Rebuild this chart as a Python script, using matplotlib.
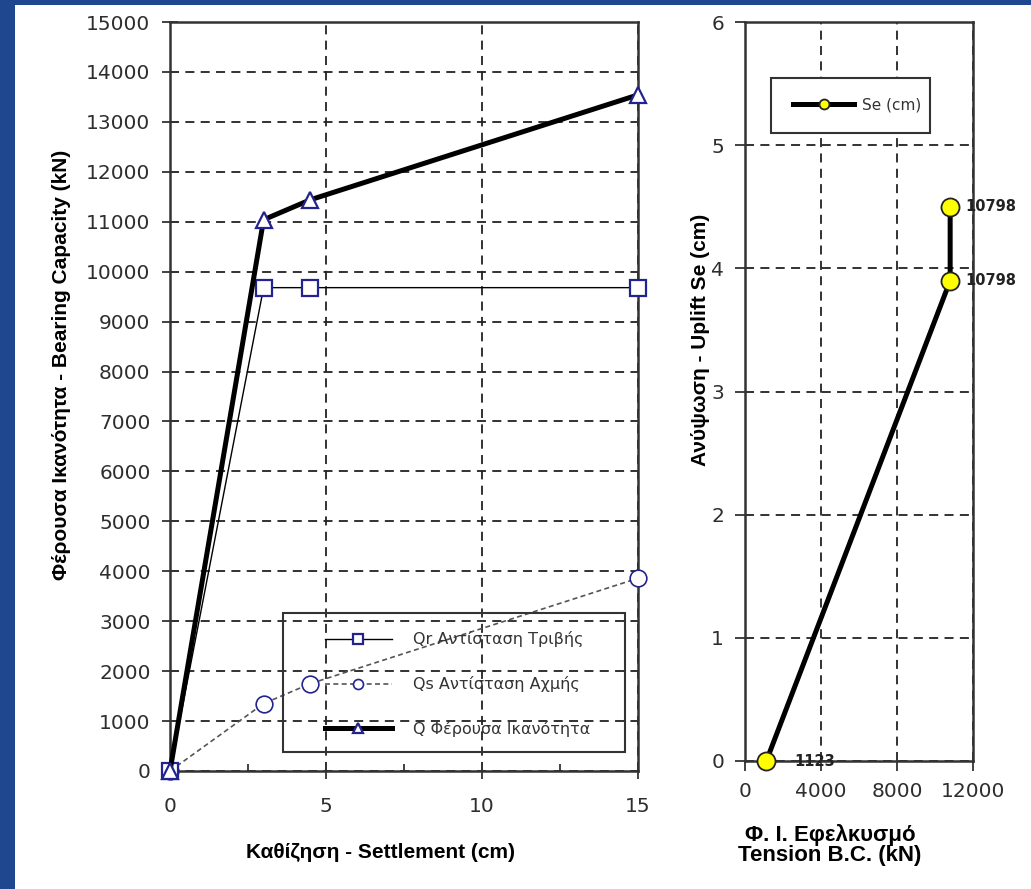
import matplotlib
matplotlib.use('Agg')
import matplotlib.pyplot as plt
from matplotlib.patches import Rectangle

# settlement curve data (left chart)
settlement = [0, 3, 4.5, 15]
qr = [0, 9680, 9680, 9680]
qs = [0, 1350, 1750, 3860]
q = [0, 11040, 11440, 13540]

# uplift curve data (right chart)
tension = [1123, 10798, 10798]
uplift = [0, 3.9, 4.5]
tension_labels = ['1123', '10798', '10798']

plt.rcParams['font.family'] = ['DejaVu Sans']
label_font = ['Liberation Sans Narrow', 'Liberation Sans', 'DejaVu Sans']
tick_col = '#2e2e2e'
navy = '#23238f'

fig = plt.figure(figsize=(10.31, 8.89), dpi=100)
fig.patch.set_facecolor('#1f4790')
fig.patches.append(Rectangle((15 / 1031, 0), 1, 1 - 5 / 889, transform=fig.transFigure,
                             facecolor='white', edgecolor='none', zorder=-10))

# ---------- left chart ----------
ax = fig.add_axes([170 / 1031, 1 - 771 / 889, 468 / 1031, 749 / 889])
ax.set_facecolor('white')
ax.plot(settlement, qr, color='black', lw=1.0, marker='s', ms=12, mfc='white',
        mec=navy, mew=1.6, clip_on=False, zorder=4, label='Qr Αντίσταση Τριβής')
ax.plot(settlement, qs, color='#555555', lw=1.2, ls=(0, (3, 2)), marker='o', ms=12,
        mfc='white', mec=navy, mew=1.2, clip_on=False, zorder=3, label='Qs Αντίσταση Αχμής')
ax.plot(settlement, q, color='black', lw=3.6, marker='^', ms=12, mfc='white',
        mec=navy, mew=1.6, clip_on=False, zorder=5, label='Q Φέρουσα Ικανότητα')

ax.set_xlim(0, 15)
ax.set_ylim(0, 15000)
ax.set_xticks([0, 5, 10, 15])
ax.set_xticks([2.5, 7.5, 12.5], minor=True)
ax.set_yticks(range(0, 15001, 1000))
ax.grid(True, which='major', color='#222222', ls=(0, (5, 3.5)), lw=1.3)
ax.tick_params(axis='both', which='major', direction='inout', length=12, width=1.3,
               labelsize=14.5, labelcolor=tick_col, color='#333333', pad=8)
ax.tick_params(axis='x', which='major', pad=13)
ax.tick_params(axis='x', which='minor', direction='in', length=5, width=1.3, color='#333333')
for s in ax.spines.values():
    s.set_color('#333333')
    s.set_linewidth(1.8)

# legend box drawn separately so the entries can sit inset like the original
ax.add_patch(Rectangle((0.2415, 0.025), 0.73, 0.186, transform=ax.transAxes, facecolor='none',
                       edgecolor='#333333', lw=1.5, clip_on=False, zorder=6))
ax.legend(loc='center left', bbox_to_anchor=(0.331, 0.116), fontsize=11.5, handlelength=4.2,
          handletextpad=1.3, labelspacing=1.8, borderpad=0, borderaxespad=0,
          markerscale=0.6, frameon=False, labelcolor='#333333')

fig.text(380 / 1031, 1 - 853 / 889, 'Καθίζηση - Settlement (cm)', ha='center', va='center',
         fontsize=15, fontweight='bold', family=label_font)
fig.text(62 / 1031, 1 - 365 / 889, 'Φέρουσα Ικανότητα - Bearing Capacity (kN)', ha='center',
         va='center', rotation=90, fontsize=15, fontweight='bold', family=label_font)

# ---------- right chart ----------
ax2 = fig.add_axes([745 / 1031, 1 - 761 / 889, 228 / 1031, 739 / 889])
ax2.set_facecolor('white')
ax2.plot(tension, uplift, color='black', lw=3.6, marker='o', ms=13, mfc='#ffff00',
         mec='#222222', mew=1.3, clip_on=False, zorder=5, label='Se (cm)')
for xv, yv, txt in zip(tension, uplift, tension_labels):
    dx = 20 if txt == '1123' else 11
    ax2.annotate(txt, (xv, yv), xytext=(dx, 0), textcoords='offset points',
                 ha='left', va='center', fontsize=10.5, color='#222222', fontweight='semibold',
                 zorder=6, annotation_clip=False)

ax2.set_xlim(0, 12000)
ax2.set_ylim(0, 6)
ax2.set_xticks([0, 4000, 8000, 12000])
ax2.set_yticks(range(0, 7))
ax2.grid(True, color='#222222', ls=(0, (5, 3.5)), lw=1.3)
ax2.tick_params(axis='both', direction='out', length=7, width=1.3, labelsize=14.5,
                labelcolor=tick_col, color='#333333', pad=8)
for s in ax2.spines.values():
    s.set_color('#333333')
    s.set_linewidth(1.8)

ax2.add_patch(Rectangle((0.114, 0.850), 0.697, 0.074, transform=ax2.transAxes,
                        facecolor='white', edgecolor='#333333', lw=1.5, clip_on=False, zorder=6))
leg2 = ax2.legend(loc='center left', bbox_to_anchor=(0.2105, 0.8877), fontsize=11,
                  handlelength=4.0, handletextpad=0.5, borderpad=0, borderaxespad=0,
                  markerscale=0.55, frameon=False, labelcolor='#333333')
leg2.set_zorder(7)

fig.text(830 / 1031, 1 - 845 / 889, 'Φ. Ι. Εφελκυσμό\nTension B.C. (kN)', ha='center',
         va='center', fontsize=16, fontweight='bold', family=label_font, linespacing=1.0)
fig.text(700 / 1031, 1 - 340 / 889, 'Ανύψωση - Uplift Se (cm)', ha='center', va='center',
         rotation=90, fontsize=15, fontweight='bold', family=label_font)

fig.savefig('out.png', dpi=100, facecolor=fig.get_facecolor())
